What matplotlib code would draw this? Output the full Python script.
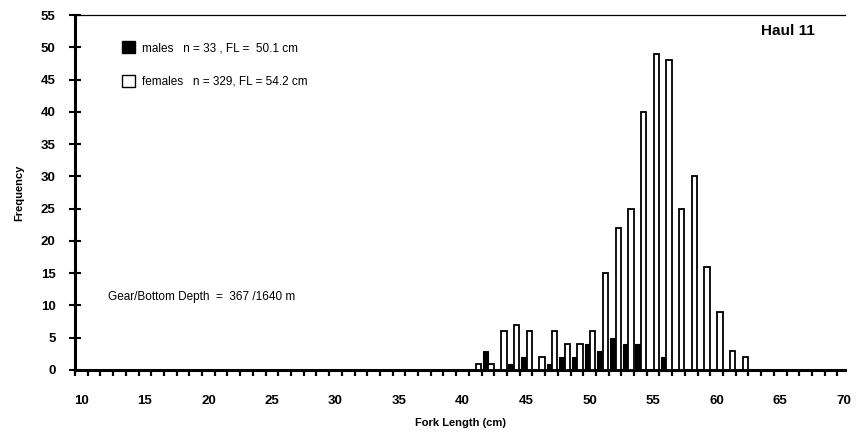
import matplotlib
matplotlib.use("Agg")
import matplotlib.pyplot as plt
from matplotlib.patches import Patch
from matplotlib.ticker import FixedLocator, NullFormatter
import numpy as np

plt.rcParams['font.family'] = ['Liberation Sans', 'DejaVu Sans']

# Fork length classes (cm) and counts per class
lengths = [41, 42, 43, 44, 45, 46, 47, 48, 49, 50, 51,
           52, 53, 54, 55, 56, 57, 58, 59, 60, 61, 62]
males = [0, 3, 0, 1, 2, 0, 1, 2, 2, 4, 3,
         5, 4, 4, 0, 2, 0, 0, 0, 0, 0, 0]
females = [1, 1, 6, 7, 6, 2, 6, 4, 4, 6, 15,
           22, 25, 40, 49, 48, 25, 30, 16, 9, 3, 2]

x_tick_labels = ['10', '15', '20', '25', '30', '35', '40', '45', '50', '55', '60', '65', '70']
y_ticks = list(range(0, 56, 5))

male_label = 'males   n = 33 , FL =  50.1 cm'
female_label = 'females   n = 329, FL = 54.2 cm'
haul_label = 'Haul 11'
depth_label = 'Gear/Bottom Depth  =  367 /1640 m'

fig = plt.figure(figsize=(8.6, 4.37), dpi=100)
ax = fig.add_axes([75 / 860, 1 - 370 / 437, 770 / 860, 355 / 437])

x = np.array(lengths, dtype=float)
ax.bar(x + 0.3, males, width=0.38, color='black', edgecolor='black', linewidth=0.8, zorder=3)
ax.bar(x + 0.75, females, width=0.42, color='white', edgecolor='black', linewidth=1.3, zorder=3)

ax.set_xlim(10, 70.6)
ax.set_ylim(0, 55)

# y axis: cross-shaped ticks every 5
ax.set_yticks(y_ticks)
ax.set_yticklabels([str(v) for v in y_ticks])
ax.tick_params(axis='y', direction='inout', length=8, width=1.5, labelsize=9.5, pad=10)

# x axis: small ticks at each cm, labels centred in the 5 cm classes
ax.xaxis.set_minor_locator(FixedLocator(list(range(10, 71))))
ax.xaxis.set_minor_formatter(NullFormatter())
ax.xaxis.set_major_locator(FixedLocator([v + 0.5 for v in range(10, 71, 5)]))
ax.set_xticklabels(x_tick_labels)
ax.tick_params(axis='x', which='major', length=0, labelsize=9.5, pad=18)
ax.tick_params(axis='x', which='minor', direction='out', length=4, width=1.6)

for lbl in ax.get_xticklabels() + ax.get_yticklabels():
    lbl.set_fontweight('bold')

ax.spines['left'].set_linewidth(2.2)
ax.spines['bottom'].set_linewidth(2.2)
ax.spines['top'].set_linewidth(0.9)
ax.spines['right'].set_visible(False)

ax.set_xlabel('Fork Length (cm)', fontsize=8, fontweight='bold', labelpad=8)
ax.set_ylabel('Frequency', fontsize=8, fontweight='bold', labelpad=12)

handles = [Patch(facecolor='black', edgecolor='black', linewidth=1.0),
           Patch(facecolor='white', edgecolor='black', linewidth=1.0)]
ax.legend(handles, [male_label, female_label], loc='upper left',
          bbox_to_anchor=(0.055, 0.94), frameon=False, fontsize=8.5,
          handlelength=1.1, handleheight=1.2, handletextpad=0.6,
          labelspacing=1.75, borderaxespad=0)

ax.text(0.961, 0.975, haul_label, transform=ax.transAxes, ha='right', va='top',
        fontsize=11, fontweight='bold')
ax.text(0.043, 0.205, depth_label, transform=ax.transAxes, ha='left', va='center',
        fontsize=8.5)

fig.savefig('out.png', dpi=100)
